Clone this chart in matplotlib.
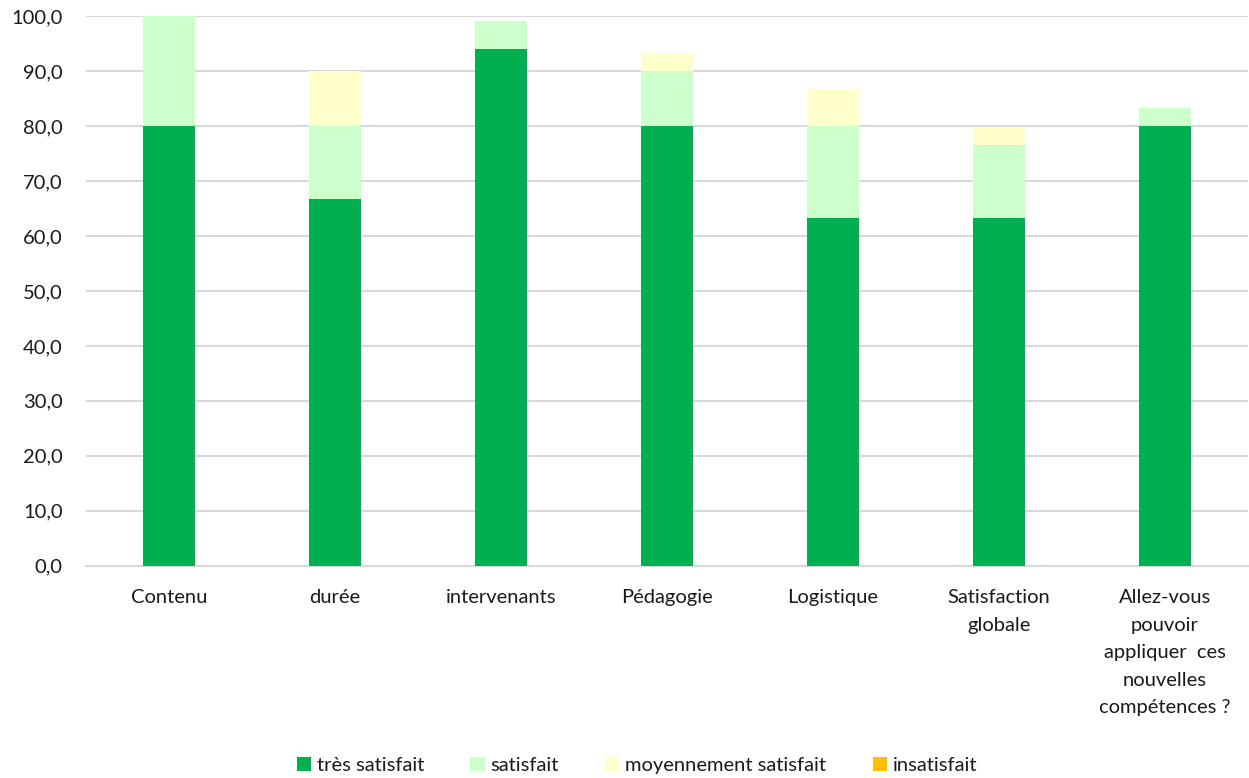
import matplotlib
matplotlib.use("Agg")
import matplotlib.pyplot as plt
import numpy as np

plt.rcParams['font.family'] = ['Lato', 'DejaVu Sans']

categories = ["Contenu", "durée", "intervenants", "Pédagogie", "Logistique",
              "Satisfaction\nglobale",
              "Allez-vous\npouvoir\nappliquer  ces\nnouvelles\ncompétences ?"]
tres_satisfait = [80.0, 66.7, 94.1, 80.0, 63.3, 63.3, 80.0]
satisfait = [20.0, 13.3, 5.0, 10.0, 16.7, 13.3, 3.3]
moyennement = [0.0, 10.0, 0.0, 3.3, 6.7, 3.3, 0.0]
insatisfait = [0.0, 0.0, 0.0, 0.0, 0.0, 0.0, 0.0]

series = [("très satisfait", tres_satisfait, "#00B050"),
          ("satisfait", satisfait, "#CCFFCC"),
          ("moyennement satisfait", moyennement, "#FFFFCC"),
          ("insatisfait", insatisfait, "#FFC000")]

fig = plt.figure(figsize=(12.49, 7.78), dpi=100)
ax = fig.add_axes([0.069, 0.273, 0.93, 0.706])

x = np.arange(len(categories))
bottom = np.zeros(len(categories))
for name, vals, col in series:
    vals = np.array(vals)
    ax.bar(x, vals, width=0.31, bottom=bottom, color=col, label=name, zorder=3)
    bottom += vals

ax.set_ylim(0, 100)
ax.set_xlim(-0.5, len(categories) - 0.5)
ax.set_yticks(np.arange(0, 101, 10))
ax.set_yticklabels([f"{v:.1f}".replace(".", ",") for v in np.arange(0, 101, 10)])
ax.set_xticks(x)
ax.set_xticklabels(categories)
for lbl in ax.get_xticklabels():
    lbl.set_linespacing(1.75)
ax.tick_params(axis="both", length=0, labelsize=14.5, colors="#1a1a1a")
ax.tick_params(axis="x", pad=17)
ax.tick_params(axis="y", pad=17)
ax.grid(axis="y", color="#d9d9d9", linewidth=1.5, zorder=0)
for s in ["top", "right", "left"]:
    ax.spines[s].set_visible(False)
ax.spines["bottom"].set_color("#d9d9d9")
ax.spines["bottom"].set_linewidth(1.5)

fig.legend(loc="lower center", bbox_to_anchor=(0.51, -0.018), ncol=4, frameon=False,
           fontsize=14.5, handlelength=0.7, handleheight=0.7, handletextpad=0.3,
           columnspacing=2.3, labelcolor="#1a1a1a")

fig.savefig("out.png", dpi=100)
